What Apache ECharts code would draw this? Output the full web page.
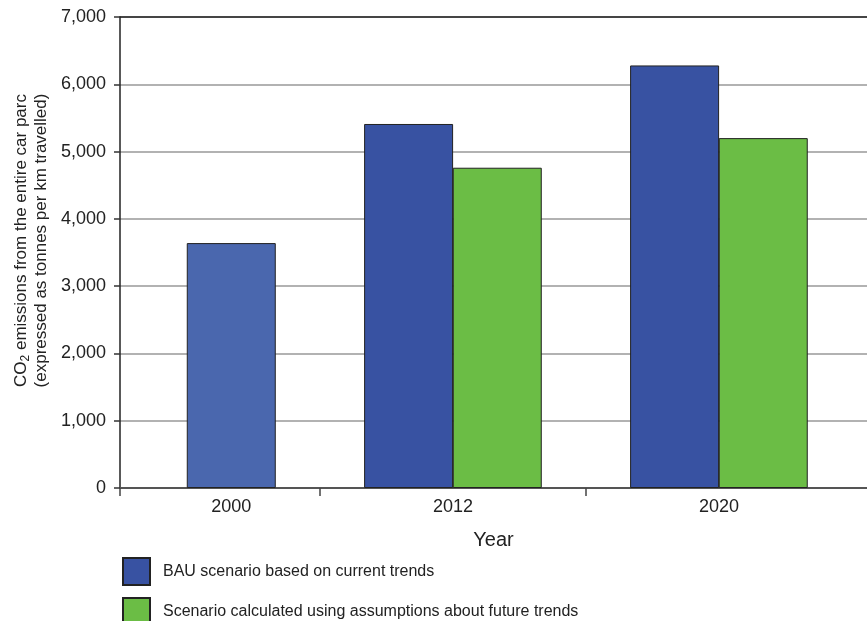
<!DOCTYPE html>
<html>
<head>
<meta charset="utf-8">
<script src="https://cdn.jsdelivr.net/npm/echarts@6/dist/echarts.min.js"></script>
<style>
  html, body { margin: 0; padding: 0; background: #fff; }
  #main { width: 867px; height: 621px; }
</style>
</head>
<body>
<div id="main"></div>
<script>
// data
var years = ["2000", "2012", "2020"];
var bauValues = [3640, 5410, 6280];
var scenarioValues = [null, 4760, 5200];
var yTicks = [0, 1000, 2000, 3000, 4000, 5000, 6000, 7000];
var seriesNames = ["BAU scenario based on current trends", "Scenario calculated using assumptions about future trends"];

// layout: each bar takes one slot on the x axis, groups start at these slots
var groupStart = [0, 2, 5];
var xMin = -0.755, xMax = 7.67;

var bauData = [], scenData = [], labelPos = [], tickPos = [xMin];
for (var i = 0; i < years.length; i++) {
  var n = scenarioValues[i] == null ? 1 : 2;
  bauData.push({
    value: [groupStart[i] + 0.5, bauValues[i]],
    // the 2000 bar is a lighter blue in the original
    itemStyle: i === 0 ? { color: "#4a67ae" } : undefined
  });
  if (scenarioValues[i] != null) scenData.push([groupStart[i] + 1.5, scenarioValues[i]]);
  labelPos.push(groupStart[i] + n / 2);
  if (i > 0) tickPos.push((groupStart[i - 1] + (scenarioValues[i - 1] == null ? 1 : 2) + groupStart[i]) / 2);
}

function legendAt(top, name) {
  return {
    left: 122,
    top: top,
    padding: 0,
    icon: "rect",
    itemWidth: 27,
    itemHeight: 27,
    textStyle: { color: "#222", fontSize: 16, padding: [8, 0, 0, 8] },
    data: [name]
  };
}

var chart = echarts.init(document.getElementById("main"));
chart.setOption({
  animation: false,
  textStyle: { fontFamily: "Liberation Sans, Arial, sans-serif" },
  grid: { left: 120, right: 0, top: 17, bottom: 133 },
  legend: [legendAt(557, seriesNames[0]), legendAt(597, seriesNames[1])],
  xAxis: [
    {
      type: "value",
      min: xMin,
      max: xMax,
      name: "Year",
      nameLocation: "middle",
      nameGap: 42,
      nameTextStyle: { color: "#222", fontSize: 20 },
      axisLine: { lineStyle: { color: "#555", width: 2 } },
      axisTick: { show: true, customValues: tickPos, length: 8, lineStyle: { color: "#444", width: 1.5 } },
      axisLabel: {
        customValues: labelPos,
        color: "#222",
        fontSize: 18,
        margin: 10,
        formatter: function (v) {
          for (var k = 0; k < labelPos.length; k++) {
            if (Math.abs(labelPos[k] - v) < 1e-6) return years[k];
          }
          return "";
        }
      },
      splitLine: { show: false }
    },
    {
      type: "value",
      position: "top",
      min: xMin,
      max: xMax,
      axisLine: { show: true, lineStyle: { color: "#222", width: 1.5 } },
      axisTick: { show: false },
      axisLabel: { show: false },
      splitLine: { show: false }
    }
  ],
  yAxis: {
    type: "value",
    min: yTicks[0],
    max: yTicks[yTicks.length - 1],
    interval: 1000,
    name: "{n|CO}{sub|2}{n| emissions from the entire car parc}\n{n|(expressed as tonnes per km travelled)}",
    nameLocation: "middle",
    nameGap: 68,
    nameTextStyle: {
      color: "#222",
      fontSize: 17,
      padding: [0, 0, 0, 24],
      rich: {
        n: { fontSize: 17, lineHeight: 20, color: "#222" },
        sub: { fontSize: 12, lineHeight: 20, color: "#222", verticalAlign: "bottom", padding: [6, 0, 0, 0] }
      }
    },
    axisLine: { show: true, onZero: false, lineStyle: { color: "#222", width: 1.5 } },
    axisTick: { show: true, length: 6, lineStyle: { color: "#333", width: 1.5 } },
    axisLabel: {
      color: "#222",
      fontSize: 18,
      margin: 14,
      formatter: function (v) { return v.toLocaleString("en-US"); }
    },
    splitLine: { lineStyle: { color: "#999", width: 1.5 } }
  },
  series: [
    {
      name: seriesNames[0],
      type: "bar",
      barWidth: 89,
      barGap: "-100%",
      itemStyle: { color: "#3852a2", borderColor: "#222", borderWidth: 1 },
      data: bauData
    },
    {
      name: seriesNames[1],
      type: "bar",
      barWidth: 89,
      barGap: "-100%",
      itemStyle: { color: "#6bbd45", borderColor: "#222", borderWidth: 1 },
      data: scenData
    }
  ]
});
</script>
</body>
</html>
